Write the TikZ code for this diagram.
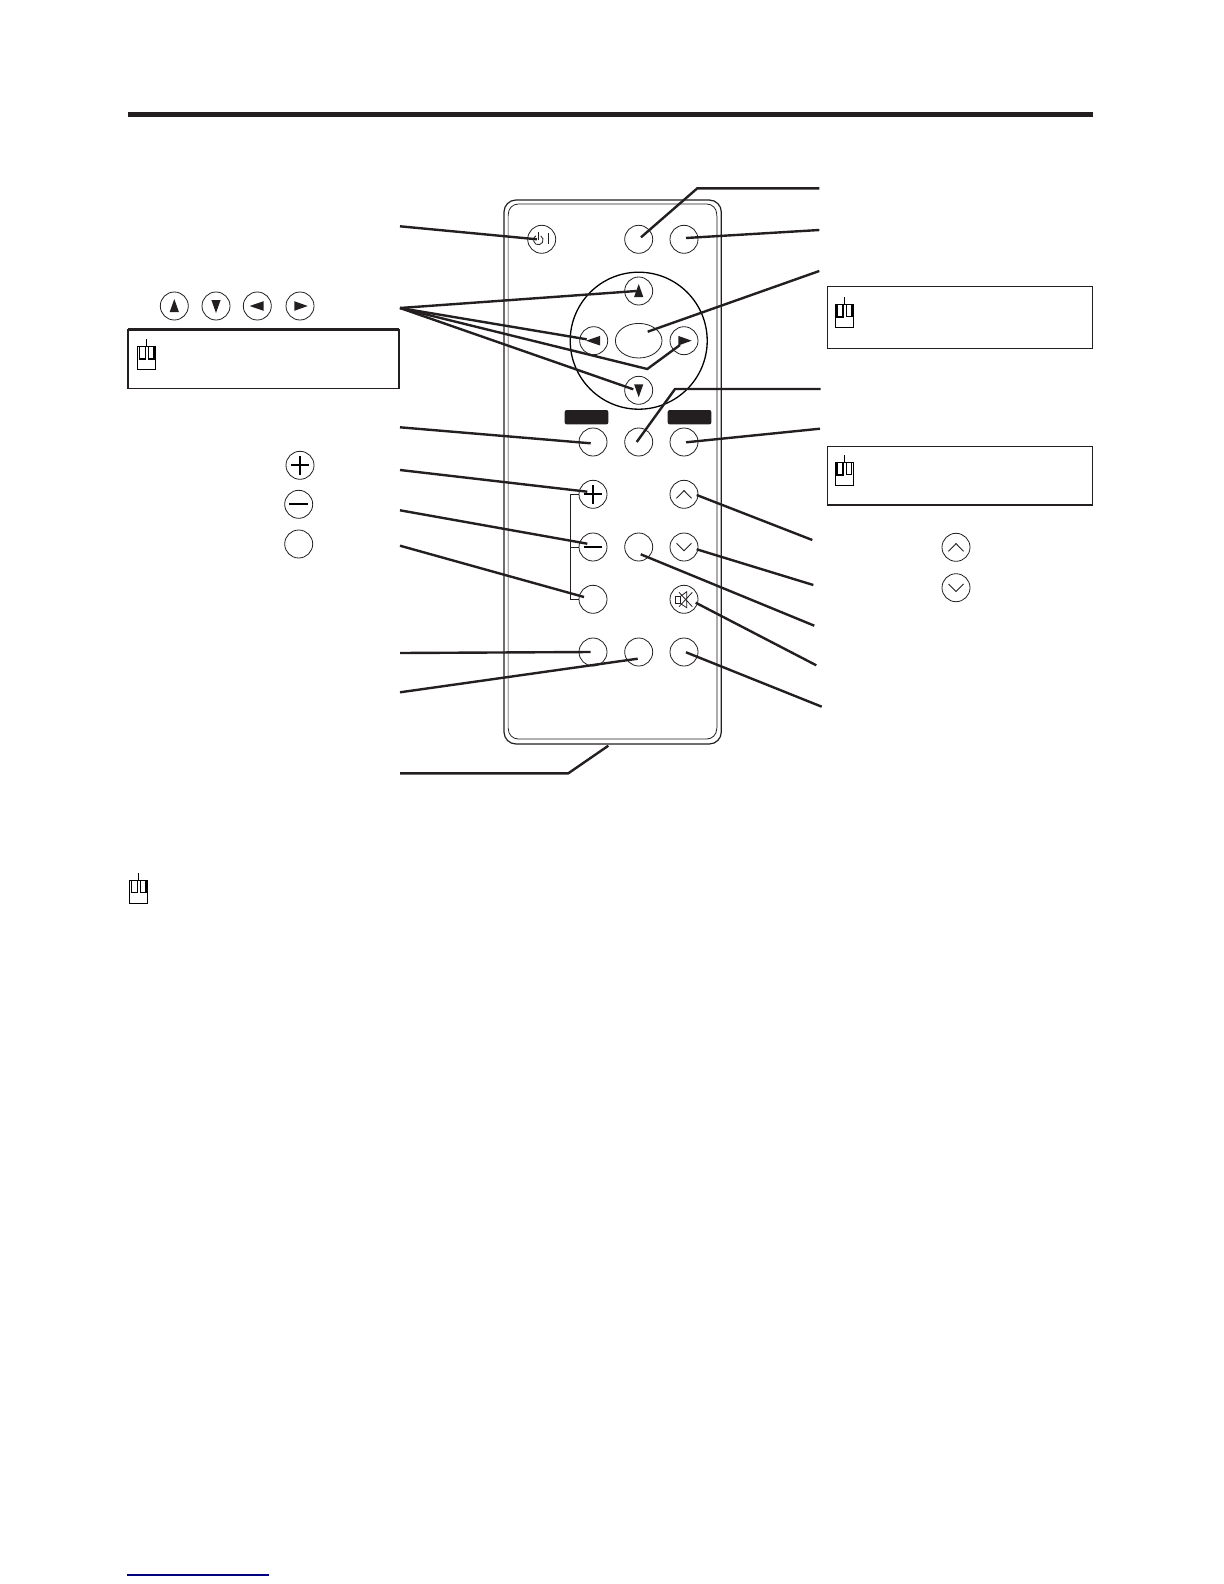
\documentclass[tikz,border=0pt]{standalone}
\usepackage{xcolor}
\usepackage{tikz}
\usetikzlibrary{shapes}
\usetikzlibrary{calc}
\definecolor{ink}{HTML}{231F20}
\tikzstyle{btn}=[circle,draw=ink,line width=.4pt,fill=white,minimum size=14pt,inner sep=0pt,outer sep=0pt]
\tikzstyle{lead}=[draw=ink,line width=1.2pt]
\tikzstyle{notebox}=[rectangle,draw=ink,line width=.6pt,minimum width=132.7pt,inner sep=0pt,outer sep=0pt]
\tikzstyle{tag}=[rectangle,fill=ink,rounded corners=1pt,minimum width=21.8pt,minimum height=7.2pt,inner sep=0pt]

\newcommand*{\mousemark}[4]{
\begin{scope}[shift={(#1,#2)}]
\draw[black,line width=.5pt] (0,0) rectangle (18.4,23);
\draw[black,line width=.5pt] (9,0) -- (9,-7.3);
\draw[black,line width=#3] (2,0) -- (2,12.4) -- (8,12.4) -- (8,0);
\draw[black,line width=#4] (11,0) -- (11,12.4) -- (16.6,12.4) -- (16.6,0);
\end{scope}
}
% arrows and signs on the buttons
\newcommand*{\triup}[1]{\fill[ink] ($(#1)+(0,-7)$) -- ($(#1)+(4.6,6)$) -- ($(#1)+(-4.6,6)$) -- cycle;}
\newcommand*{\tridown}[1]{\fill[ink] ($(#1)+(0,7)$) -- ($(#1)+(4.6,-6)$) -- ($(#1)+(-4.6,-6)$) -- cycle;}
\newcommand*{\trileft}[1]{\fill[ink] ($(#1)+(-7.7,0)$) -- ($(#1)+(6.3,-4.8)$) -- ($(#1)+(6.3,4.8)$) -- cycle;}
\newcommand*{\triright}[1]{\fill[ink] ($(#1)+(7.7,0)$) -- ($(#1)+(-5.7,-4.8)$) -- ($(#1)+(-5.7,4.8)$) -- cycle;}
\newcommand*{\chevup}[1]{\draw[ink,line width=.45pt] ($(#1)+(-7.5,4)$) -- ($(#1)+(0,-3.7)$) -- ($(#1)+(7.5,4)$);}
\newcommand*{\chevdown}[1]{\draw[ink,line width=.45pt] ($(#1)+(-7.5,-3.7)$) -- ($(#1)+(0,3.7)$) -- ($(#1)+(7.5,-3.7)$);}
\newcommand*{\plussign}[1]{\draw[black,line width=.95pt] ($(#1)+(-9.3,0)$) -- ($(#1)+(9.3,0)$) ($(#1)+(0,-9.3)$) -- ($(#1)+(0,9.3)$);}
\newcommand*{\minussign}[1]{\draw[black,line width=.95pt] ($(#1)+(-9.3,0)$) -- ($(#1)+(9.3,0)$);}

\begin{document}
\begin{tikzpicture}[x=.5pt,y=-.5pt]
\useasboundingbox (0,0) rectangle (1224,1584);

%top rule
\fill[ink] (128,112.3) rectangle (1092.7,117);

%remote body
\node[rectangle,draw=ink,line width=.6pt,rounded corners=6pt,minimum width=108.65pt,minimum height=272pt,inner sep=0pt,outer sep=0pt] (body) at (612.65,472) {};
\node[rectangle,draw=ink,line width=.4pt,rounded corners=5pt,minimum width=104.2pt,minimum height=267.5pt,inner sep=0pt,outer sep=0pt] (inner) at (612.5,471.5) {};
\draw[gray!65,line width=.8pt] (508.3,216) -- (508.3,728);
\draw[gray!65,line width=.8pt] (716.7,216) -- (716.7,728);

%cursor ring
\node[circle,draw=black,line width=.65pt,minimum size=68.5pt,inner sep=0pt,outer sep=0pt] (ring) at (638.7,340.7) {};
\node[ellipse,draw=ink,line width=.4pt,minimum width=23.3pt,minimum height=17.3pt,inner sep=0pt,outer sep=0pt] (ok) at (638.7,340.7) {};

%black tags
\node[tag] (tagl) at (586.5,417.2) {};
\node[tag] (tagr) at (689.5,417.2) {};

%buttons on the remote
\foreach \name/\x/\y in {power/541.7/239.3,topmid/638.7/239.3,topright/684/239.3,
  up/638.7/291,left/593.7/340.7,right/684/340.7,down/638.7/390.3,
  rowl/593/442,rowc/638.7/442,rowr/684/442,
  plus/593/494.3,chup/684/494.3,
  minus/593/547,midc/638.7/547,chdown/684/547,
  blank/593/599.3,mute/684/599.3,
  botl/593/652,botc/638.7/652,botr/684/652} {
\node[btn] (\name) at (\x,\y) {};
}

%buttons beside the labels
\foreach \name/\x/\y in {sideup/174.3/306,sidedown/216/306,sideleft/257.3/306,sideright/300/306,
  sideplus/300/465.3,sideminus/298.7/504.3,sideblank/298.7/544,
  sidechup/956/547.3,sidechdown/956/587.7} {
\node[btn] (\name) at (\x,\y) {};
}

%signs
\triup{up}
\tridown{down}
\trileft{left}
\triright{right}
\triup{sideup}
\tridown{sidedown}
\trileft{sideleft}
\triright{sideright}
\plussign{plus}
\minussign{minus}
\plussign{sideplus}
\minussign{sideminus}
\chevup{chup}
\chevdown{chdown}
\chevup{sidechup}
\chevdown{sidechdown}

%power sign
\draw[ink,line width=.4pt] ($(power)+(-1,-3.46)$) arc[start angle=-60,end angle=240,radius=4.8];
\draw[ink,line width=.4pt] ($(power)+(-3.4,-7)$) -- ($(power)+(-3.4,1)$);
\draw[ink,line width=.5pt] ($(power)+(6.3,-6)$) -- ($(power)+(6.3,5)$);

%mute sign
\draw[ink,line width=.4pt] ($(mute)+(-8.3,-2.6)$) rectangle ($(mute)+(-4,4)$);
\draw[ink,line width=.4pt] ($(mute)+(-4,-2.6)$) -- ($(mute)+(2.7,-7.6)$) -- ($(mute)+(2.7,8.4)$) -- ($(mute)+(-4,4)$);
\draw[ink,line width=.4pt] ($(mute)+(-5,-7)$) -- ($(mute)+(8.3,7.4)$);
\draw[ink,line width=.4pt] ($(mute)+(-5,7.4)$) -- ($(mute)+(8.3,-7)$);

%bracket
\draw[ink,line width=.5pt] (plus.west) -- (570.7,494.3) -- (570.7,599.3) -- (blank.west);
\draw[ink,line width=.5pt] (570.7,547) -- (minus.west);

%boxes
\node[notebox,minimum width=135.5pt,minimum height=29.5pt] (noteleft) at (263.5,358.8) {};
\node[notebox,minimum height=31pt] (noteone) at (960,317.3) {};
\node[notebox,minimum height=29.3pt] (notetwo) at (960,475.6) {};
\draw[lead] (noteleft.north west) -- (noteleft.north east);
\draw[lead] (notetwo.south west) -- (notetwo.south east);

%mouse marks
\mousemark{137.3}{346.7}{.75pt}{.75pt}
\mousemark{835.3}{304.3}{.85pt}{.7pt}
\mousemark{835.3}{462.3}{.85pt}{.5pt}
\mousemark{129.3}{880}{.75pt}{.75pt}

%free ends on the left
\foreach \name/\y in {lpower/226.3,lfan/308,lrowl/427.3,lplus/470,lminus/510.3,lblank/545.7,lbotl/653,lbotc/692.3,lbody/773.3} {
\coordinate (\name) at (400,\y);
}
%free ends on the right
\coordinate (rtopmid) at (819.3,188.3);
\coordinate (rtopright) at (819.3,230);
\coordinate (rok) at (819.3,271);
\coordinate (rrowc) at (820.7,389);
\coordinate (rrowr) at (820,428.7);
\coordinate (rchup) at (812.3,540);
\coordinate (rchdown) at (813.3,585);
\coordinate (rmidc) at (814.3,625.7);
\coordinate (rmute) at (816.3,665.3);
\coordinate (rbotr) at (821.7,706.7);
%bends
\coordinate (bendtop) at (697.3,188.3);
\coordinate (bendfan) at (647.3,369);
\coordinate (bendrow) at (675,389);
\coordinate (bendbody) at (568.3,773.3);
\coordinate (tipbody) at ($(body.south)+(-4.3,1.7)$);

%left leaders
\draw[lead] (lpower) -- ($(power)+(-4.7,0)$);
\draw[lead] (lfan) -- ($(up)+(-2,0)$);
\draw[lead] (lfan) -- ($(left)+(-7,-1.4)$);
\draw[lead] (lfan) -- (bendfan) -- ($(right)+(-4,4.3)$);
\draw[lead] (lfan) -- ($(down)+(-5.4,-1)$);
\draw[lead] (lrowl) -- ($(rowl)+(-2.3,1.3)$);
\draw[lead] (lplus) -- ($(plus)+(-5.7,-2.6)$);
\draw[lead] (lminus) -- ($(minus)+(-5.7,-3.3)$);
\draw[lead] (lblank) -- ($(blank)+(-9,-2.3)$);
\draw[lead] (lbotl) -- ($(botl)+(-2.3,0)$);
\draw[lead] (lbotc) -- ($(botc)+(-1,6.7)$);
\draw[lead] (lbody) -- (bendbody) -- (tipbody);

%right leaders
\draw[lead] (rtopmid) -- (bendtop) -- ($(topmid)+(2.3,-2)$);
\draw[lead] (rtopright) -- ($(topright)+(2,-1.3)$);
\draw[lead] (rok) -- ($(ok)+(9,-9)$);
\draw[lead] (rrowc) -- (bendrow) -- ($(rowc)+(-2,0)$);
\draw[lead] (rrowr) -- ($(rowr)+(2,0.3)$);
\draw[lead] (rchup) -- ($(chup)+(12.7,.7)$);
\draw[lead] (rchdown) -- ($(chdown)+(12.7,2.3)$);
\draw[lead] (rmidc) -- ($(midc)+(2,7.3)$);
\draw[lead] (rmute) -- ($(mute)+(11.7,3.4)$);
\draw[lead] (rbotr) -- ($(botr)+(2,.3)$);

%blue line at the foot
\draw[blue!50!black,line width=.6pt] (127.3,1575) -- (269,1575);
\end{tikzpicture}
\end{document}
